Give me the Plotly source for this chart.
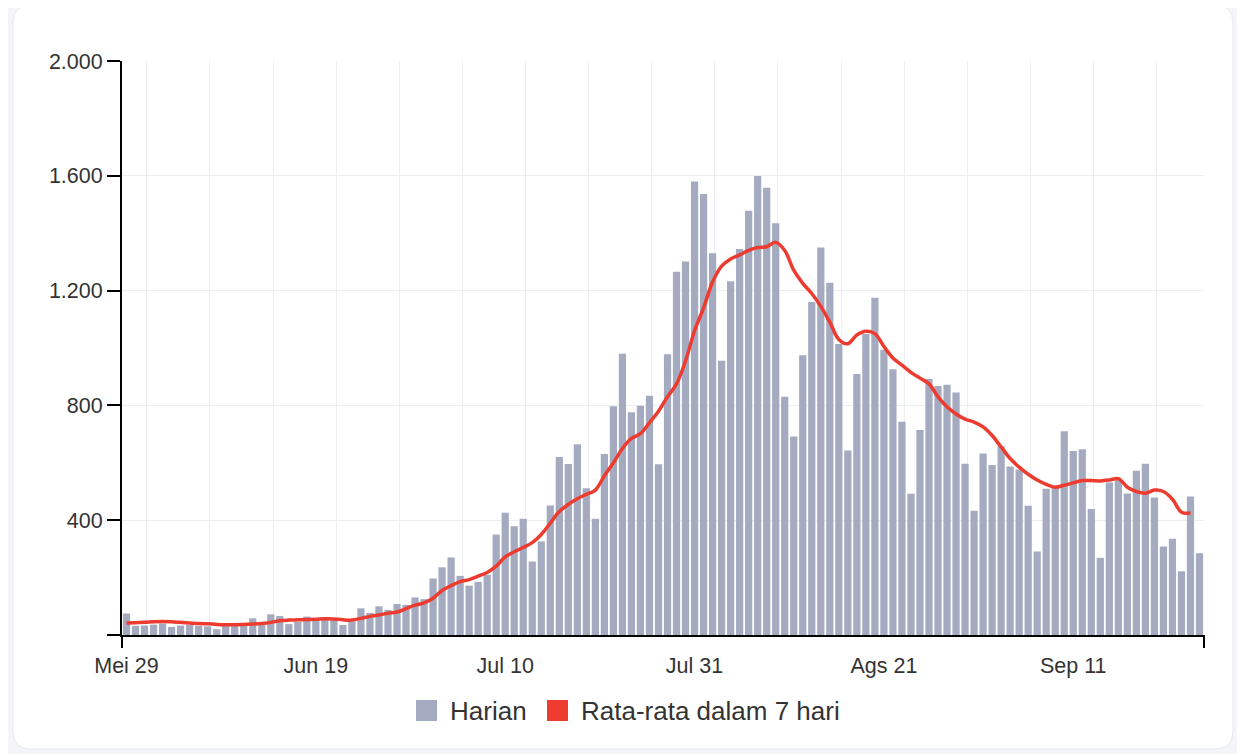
import pandas as pd
import plotly.graph_objects as go

# ---- data ----
start_date = "2021-05-29"
daily = [75, 32, 33, 36, 40, 28, 33, 35, 32, 30,
         20, 33, 35, 32, 58, 35, 72, 66, 38, 46,
         64, 58, 58, 52, 35, 48, 93, 77, 100, 87,
         108, 105, 131, 125, 197, 236, 270, 206, 172, 185,
         210, 350, 426, 379, 405, 256, 326, 451, 620, 596,
         665, 511, 405, 631, 797, 980, 776, 799, 834, 595,
         978, 1266, 1301, 1580, 1537, 1330, 956, 1233, 1345, 1478,
         1599, 1558, 1435, 830, 692, 975, 1160, 1350, 1227, 1014,
         643, 909, 1049, 1175, 994, 926, 743, 492, 714, 892,
         868, 872, 845, 597, 433, 632, 592, 658, 587, 577,
         450, 291, 510, 515, 710, 641, 647, 439, 269, 531,
         543, 493, 572, 597, 479, 308, 335, 222, 483, 285]

avg7 = [42, 43, 44, 46, 47, 46, 44, 42, 40, 39,
        37, 36, 36, 37, 38, 40, 44, 50, 52, 53,
        54, 55, 57, 56, 53, 52, 58, 65, 70, 76,
        80, 92, 104, 112, 128, 155, 172, 186, 193, 205,
        218, 240, 272, 290, 305, 322, 350, 390, 430, 455,
        475, 490, 505, 555, 600, 650, 685, 702, 740, 780,
        830, 875, 955, 1060, 1140, 1230, 1285, 1310, 1324, 1340,
        1350, 1353, 1368, 1340, 1271, 1225, 1190, 1145, 1090, 1030,
        1015, 1045, 1058, 1050, 1005, 965, 940, 915, 895, 875,
        830, 795, 770, 752, 742, 725, 695, 655, 615, 585,
        560, 540, 525, 515, 522, 530, 538, 538, 537, 540,
        545, 515, 500, 494, 505, 500, 473, 428, 425]

tick_dates = ["2021-05-29", "2021-06-19", "2021-07-10", "2021-07-31", "2021-08-21", "2021-09-11"]
tick_labels = ["Mei 29", "Jun 19", "Jul 10", "Jul 31", "Ags 21", "Sep 11"]
y_ticks = [0, 400, 800, 1200, 1600, 2000]
y_labels = ["", "400", "800", "1.200", "1.600", "2.000"]
series_names = ["Harian", "Rata-rata dalam 7 hari"]

dates = pd.date_range(start_date, periods=len(daily), freq="D")

BAR_COLOR = "#A4ABC0"
LINE_COLOR = "#EE3B30"
FONT = "Liberation Sans, Arial, sans-serif"
TEXT = "#333333"

OFF = 8  # page body margin
W, H = 1245 - OFF, 754 - OFF
# plot area in page pixels: x 122..1204, y 61..635
L, R, T, B = 122 - OFF, 1245 - 1204, 61 - OFF, 754 - 635
PW, PH = W - L - R, H - T - B


def px(p):
    return (p - OFF - L) / PW


def py(p):
    return (T + PH - (p - OFF)) / PH


fig = go.Figure()
fig.add_trace(go.Bar(x=dates, y=daily, name=series_names[0],
                     marker=dict(color=BAR_COLOR, line=dict(width=0)),
                     showlegend=False))
fig.add_trace(go.Scatter(x=dates[:len(avg7)], y=avg7, name=series_names[1],
                         mode="lines", line=dict(color=LINE_COLOR, width=3.5, shape="spline"),
                         showlegend=False))

# card background (rounded rectangle), page pixels
cl, ct, cr, cb, rad = 13, 5, 1233, 749, 18
card = (f"M {px(cl+rad)},{py(ct)} L {px(cr-rad)},{py(ct)} Q {px(cr)},{py(ct)} {px(cr)},{py(ct+rad)} "
        f"L {px(cr)},{py(cb-rad)} Q {px(cr)},{py(cb)} {px(cr-rad)},{py(cb)} "
        f"L {px(cl+rad)},{py(cb)} Q {px(cl)},{py(cb)} {px(cl)},{py(cb-rad)} "
        f"L {px(cl)},{py(ct+rad)} Q {px(cl)},{py(ct)} {px(cl+rad)},{py(ct)} Z")

shapes = [
    dict(type="path", path=card, xref="paper", yref="paper", layer="below",
         fillcolor="white", line=dict(color="#E6E9EE", width=1)),
    # axis end ticks
    dict(type="line", xref="paper", yref="paper", x0=0, x1=0, y0=0, y1=py(648),
         line=dict(color="black", width=2)),
    dict(type="line", xref="paper", yref="paper", x0=1, x1=1, y0=0, y1=py(648),
         line=dict(color="black", width=2)),
    # custom legend symbols
    dict(type="rect", xref="paper", yref="paper", x0=px(416), x1=px(437), y0=py(721), y1=py(700),
         fillcolor=BAR_COLOR, line=dict(width=0)),
    dict(type="rect", xref="paper", yref="paper", x0=px(547), x1=px(568), y0=py(721), y1=py(700),
         fillcolor=LINE_COLOR, line=dict(width=0)),
]

annotations = [
    dict(text=series_names[0], xref="paper", yref="paper", x=px(448), y=py(711),
         xanchor="left", yanchor="middle", showarrow=False,
         font=dict(family=FONT, size=26, color=TEXT)),
    dict(text=series_names[1], xref="paper", yref="paper", x=px(579), y=py(711),
         xanchor="left", yanchor="middle", showarrow=False,
         font=dict(family=FONT, size=26, color=TEXT)),
]

fig.update_layout(
    width=W, height=H, autosize=False,
    margin=dict(l=L, r=R, t=T, b=B, pad=0),
    paper_bgcolor="#F3F5F8",
    plot_bgcolor="rgba(0,0,0,0)",
    bargap=0.2,
    font=dict(family=FONT, size=21, color=TEXT),
    shapes=shapes,
    annotations=annotations,
    showlegend=False,
)

fig.update_xaxes(
    type="date",
    range=["2021-05-28 12:00", "2021-09-25 12:00"],
    tickvals=tick_dates, ticktext=tick_labels,
    ticks="outside", ticklen=10, tickcolor="rgba(0,0,0,0)",
    showgrid=False,
    minor=dict(tick0="2021-05-31 06:00", dtick=7 * 86400000, showgrid=True,
               gridcolor="#EDEEF1", gridwidth=1, ticks=""),
    showline=True, linecolor="black", linewidth=2,
    tickfont=dict(family=FONT, size=21.5, color=TEXT),
    zeroline=False,
)

fig.update_yaxes(
    range=[0, 2000],
    tickvals=y_ticks, ticktext=y_labels,
    ticks="outside", ticklen=13, tickcolor="black", tickwidth=1.5,
    showgrid=True, gridcolor="#EDEEF1", gridwidth=1,
    showline=True, linecolor="black", linewidth=2,
    tickfont=dict(family=FONT, size=21.5, color=TEXT),
    zeroline=False,
)

fig.write_html("out.html")
